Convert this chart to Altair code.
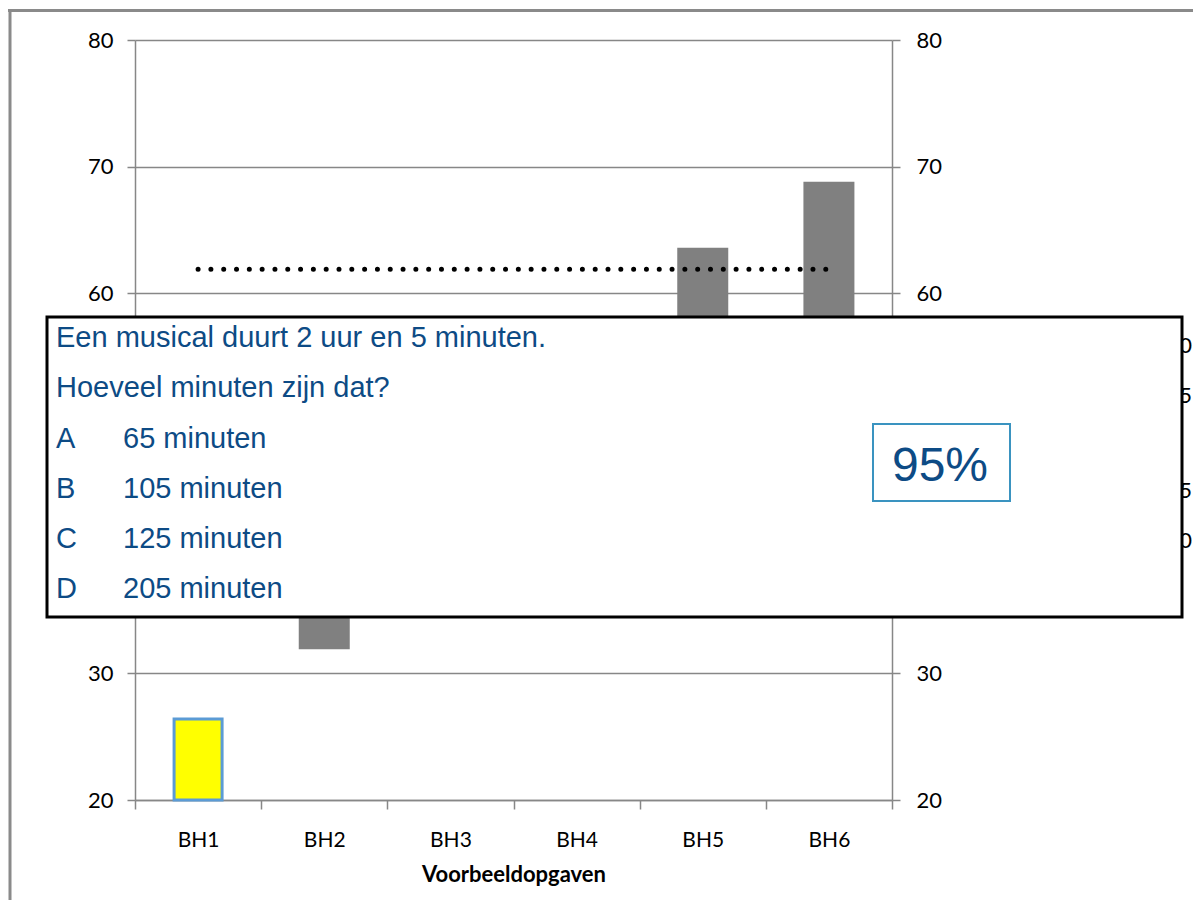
import altair as alt
import pandas as pd

# ---------------- data ----------------
categories = ["BH1", "BH2", "BH3", "BH4", "BH5", "BH6"]
bar_low = [20.0, 31.9, 41.0, 44.0, 52.0, 56.0]
bar_high = [26.4, 43.0, 49.0, 53.0, 63.6, 68.8]
bar_fill = ["#FFFF00", "#808080", "#808080", "#808080", "#808080", "#808080"]
bar_stroke = ["#5B9BD5", "transparent", "transparent", "transparent", "transparent", "transparent"]
bar_stroke_width = [3, 0, 0, 0, 0, 0]
bar_width = [48, 51, 51, 51, 51, 51]
mean_value = [61.9, 61.9, 61.9, 61.9, 61.9, 61.9]
y_ticks = [20, 30, 40, 50, 60, 70, 80]

question_lines = ["Een musical duurt 2 uur en 5 minuten.", "Hoeveel minuten zijn dat?"]
option_letters = ["A", "B", "C", "D"]
option_texts = ["65 minuten", "105 minuten", "125 minuten", "205 minuten"]
score_label = ["95%"]
hidden_labels = ["50", "45", "35", "30"]

# ---------------- styling ----------------
GRID = "#878787"
TXT_BLUE = "#0D4B85"
W, H = 757, 760

bars_df = pd.DataFrame({
    "categorie": categories,
    "laag": bar_low,
    "hoog": bar_high,
    "vulling": bar_fill,
    "rand": bar_stroke,
    "randdikte": bar_stroke_width,
    "breedte": bar_width,
})
mean_df = pd.DataFrame({"categorie": categories, "gemiddelde": mean_value})

ysc = alt.Scale(domain=[20, 80], nice=False, zero=False)
xsc = alt.Scale(domain=categories, paddingInner=0, paddingOuter=0)

axis_common = dict(
    domainColor=GRID, domainWidth=1.5, tickColor=GRID, tickWidth=1.5,
    labelColor="#000000", labelFont="Lato",
)

bars = alt.Chart(bars_df).mark_bar().encode(
    x=alt.X("categorie:N", scale=xsc, sort=categories,
            axis=alt.Axis(title="Voorbeeldopgaven", tickBand="extent", labelAngle=0,
                          tickSize=9, labelPadding=20, labelFontSize=21,
                          titleFont="Lato", titleFontSize=22, titleFontWeight="bold",
                          titleColor="#000000", titlePadding=14, grid=False,
                          **axis_common)),
    y=alt.Y("laag:Q", scale=ysc,
            axis=alt.Axis(orient="left", values=y_ticks, title=None, grid=True,
                          gridColor=GRID, gridWidth=1.5, tickSize=8, labelPadding=14,
                          labelFontSize=22, **axis_common)),
    y2="hoog:Q",
    fill=alt.Fill("vulling:N", scale=None),
    stroke=alt.Stroke("rand:N", scale=None),
    strokeWidth=alt.StrokeWidth("randdikte:Q", scale=None),
    size=alt.Size("breedte:Q", scale=None),
)

mean_line = alt.Chart(mean_df).mark_line(
    color="#000000", strokeWidth=5, strokeDash=[0.01, 12.8], strokeCap="round"
).encode(
    x=alt.X("categorie:N", scale=xsc, sort=categories),
    y=alt.Y("gemiddelde:Q", scale=ysc,
            axis=alt.Axis(orient="right", values=y_ticks, title=None, grid=False,
                          tickSize=8, labelPadding=16, labelFontSize=22, **axis_common)),
)

one = pd.DataFrame({"a": [0]})

frame_top = alt.Chart(one).mark_rule(color="#8A8A8A", strokeWidth=3).encode(
    x=alt.value(-127), x2=alt.value(1060), y=alt.value(-29.5))
frame_left = alt.Chart(one).mark_rule(color="#8A8A8A", strokeWidth=3).encode(
    x=alt.value(-125), y=alt.value(-31), y2=alt.value(862))


def text_layer(s, x, y, size, color, font, align="left", weight="normal"):
    return alt.Chart(pd.DataFrame({"t": [s]})).mark_text(
        align=align, baseline="alphabetic", fontSize=size, font=font,
        color=color, fontWeight=weight
    ).encode(x=alt.value(x), y=alt.value(y), text="t:N")


hidden_y = [313, 363, 458, 508]
hidden = [text_layer(s, 1057, yy, 22, "#000000", "Lato", align="right")
          for s, yy in zip(hidden_labels, hidden_y)]

box = alt.Chart(one).mark_rect(fill="#FFFFFF", stroke="#000000", strokeWidth=3).encode(
    x=alt.value(-88), x2=alt.value(1047), y=alt.value(277), y2=alt.value(577))

q_y = [307, 357]
questions = [text_layer(s, -79, yy, 29, TXT_BLUE, "Liberation Sans")
             for s, yy in zip(question_lines, q_y)]
o_y = [408, 458, 508, 558]
letters = [text_layer(s, -79, yy, 29, TXT_BLUE, "Liberation Sans")
           for s, yy in zip(option_letters, o_y)]
answers = [text_layer(s, -12, yy, 29, TXT_BLUE, "Liberation Sans")
           for s, yy in zip(option_texts, o_y)]

score_box = alt.Chart(one).mark_rect(fill="#FFFFFF", stroke="#3A93C0", strokeWidth=2).encode(
    x=alt.value(738), x2=alt.value(875), y=alt.value(384), y2=alt.value(461))
score = text_layer(score_label[0], 805, 441, 48, TXT_BLUE, "Liberation Sans", align="center")

chart = alt.layer(
    bars, mean_line, frame_top, frame_left, *hidden, box,
    *questions, *letters, *answers, score_box, score
).resolve_axis(y="independent").properties(
    width=W, height=H,
    autosize=alt.AutoSizeParams(type="none"),
    padding={"left": 127, "top": 32, "right": 301, "bottom": 100},
    background="#FFFFFF",
).configure_view(strokeWidth=0)

chart.save("out.html", embed_options={"renderer": "svg", "actions": False})
